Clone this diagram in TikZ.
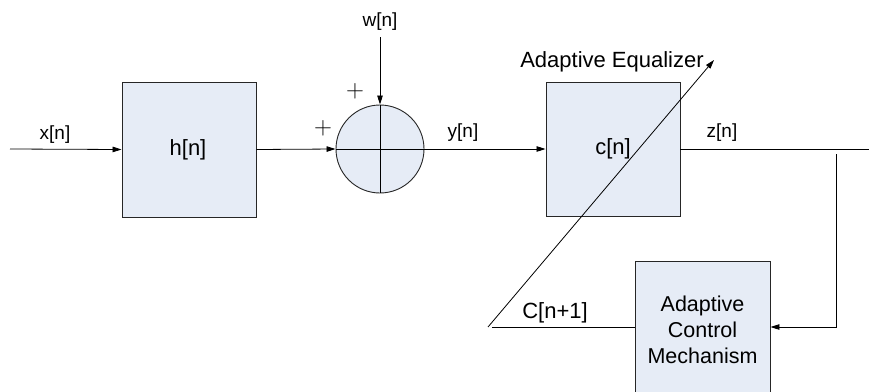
\documentclass[tikz,border=0pt]{standalone}
\usepackage{fontspec}
\setmainfont{Liberation Sans}
\usetikzlibrary{arrows.meta}
\definecolor{boxfill}{RGB}{230,236,246}
\begin{document}
\begin{tikzpicture}[x=1pt,y=-1pt,
  blk/.style={draw=black!85,fill=boxfill,line width=0.9pt,inner sep=0pt,
    font=\fontsize{21.5}{26}\selectfont,align=center},
  lbl/.style={font=\fontsize{19}{22}\selectfont,inner sep=0pt},
  big/.style={font=\fontsize{22}{24}\selectfont,inner sep=0pt},
  plus/.style={font=\fontsize{28}{30}\selectfont,inner sep=0pt},
  wire/.style={line width=0.8pt},
  arr/.style={wire,-{Triangle[length=9pt,width=5.5pt]}}]
\useasboundingbox (0,0) rectangle (869,391);
\fill[white] (0,0) rectangle (869,391);
% blocks
\node[blk,minimum width=134,minimum height=135] (h) at (189,149.5) {};
\node[blk,circle,minimum size=88] (sum) at (380,149) {};
\node[blk,minimum width=134,minimum height=134] (c) at (613,149) {};
\node[blk,minimum width=135,minimum height=138] (acm) at (702.5,330) {Adaptive\\Control\\Mechanism};
\draw[wire] (sum.north) -- (sum.south);
\draw[wire] (sum.west) -- (sum.east);
% coordinates
\coordinate (xin) at (10,149);
\coordinate (win) at (380,37);
\coordinate (zend) at (869,149);
\coordinate (vtop) at (836,154);
\coordinate (vbot) at (836,327);
\coordinate (cl) at (492,327);
\coordinate (ds) at (488,327);
\coordinate (dt) at (714,60);
% connectors
\draw[arr] (xin) -- (h.west);
\draw[arr] (h.east) -- (sum.west);
\draw[arr] (win) -- (sum.north);
\draw[arr] (sum.east) -- (c.west);
\draw[wire] (c.east) -- (zend);
\draw[arr] (vtop) -- (vbot) -- (acm.east |- vbot);
\draw[wire] (acm.west |- cl) -- (cl);
\draw[arr] (ds) -- (dt);
% labels
\node[big] (hl) at (188,150) {h[n]};
\node[big] (cll) at (613,149) {c[n]};
\node[lbl] (wl) at (380,22) {w[n]};
\node[lbl] (xl) at (55,135) {x[n]};
\node[lbl] (yl) at (463,133) {y[n]};
\node[lbl] (zl) at (722,133) {z[n]};
\node[big] (ae) at (612,62) {Adaptive Equalizer};
\node[big] (cn) at (555,313) {C[n+1]};
\node[plus] (p1) at (355,91) {$+$};
\node[plus] (p2) at (323,128) {$+$};
\end{tikzpicture}
\end{document}
